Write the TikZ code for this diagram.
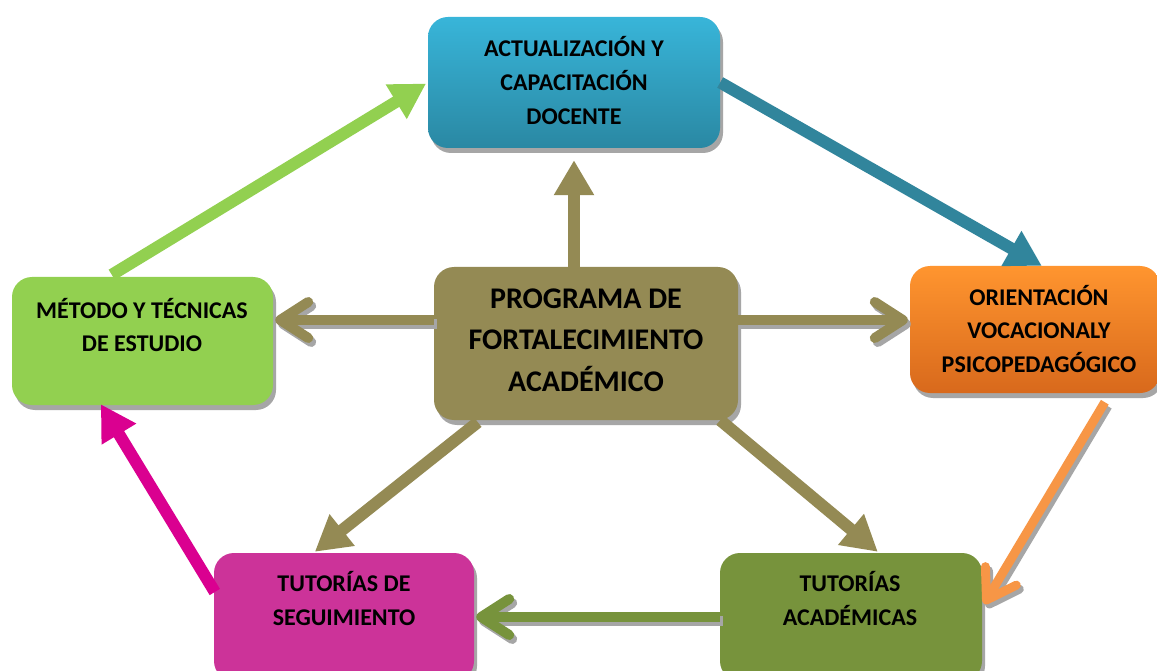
\documentclass[tikz,border=0pt]{standalone}
\usepackage{fontspec}
\setmainfont{Carlito}
\usetikzlibrary{arrows.meta,shadows,calc}
\definecolor{olive}{HTML}{948A54}
\definecolor{cyanT}{HTML}{38B5D9}
\definecolor{cyanB}{HTML}{2A88A3}
\definecolor{tealA}{HTML}{31859C}
\definecolor{greenL}{HTML}{92D050}
\definecolor{orangeT}{HTML}{FF952F}
\definecolor{orangeB}{HTML}{D8691C}
\definecolor{orangeA}{HTML}{F79646}
\definecolor{magB}{HTML}{CC3399}
\definecolor{magA}{HTML}{DA0090}
\definecolor{greenD}{HTML}{77933C}
\definecolor{shgray}{HTML}{A6A6A6}
\begin{document}
\begin{tikzpicture}[x=1pt,y=-1pt,
  box/.style={rectangle, rounded corners=20pt, inner sep=0pt,
    drop shadow={shadow xshift=3pt,shadow yshift=-5pt,fill=shgray,opacity=1}},
  lbl/.style={align=center, inner sep=0pt, font=\bfseries\fontsize{24}{34}\selectfont},
  bigarrow/.style={line width=12pt, -{Triangle[length=35pt,width=38pt]}},
  chev/.style={line width=10pt, -{Straight Barb[length=28pt,width=36pt,round]}},
  chevsh/.style={chev, shgray, transform canvas={shift={(3pt,-4pt)}}}]
\useasboundingbox (0,0) rectangle (1157,671);
\fill[white] (0,0) rectangle (1157,671);
\coordinate (y320) at (0,320);
% boxes
\node[box, top color=cyanT, bottom color=cyanB, minimum width=292pt, minimum height=131pt] (t) at (574,82.5) {};
\node[box, fill=olive, minimum width=304pt, minimum height=153pt] (c) at (586,343.5) {};
\node[box, fill=greenL, minimum width=261pt, minimum height=128pt] (m) at (142.5,341) {};
\node[box, top color=orangeT, bottom color=orangeB, minimum width=250pt, minimum height=127pt] (o) at (1035,329.5) {};
\node[box, fill=magB, minimum width=260pt, minimum height=128pt] (b1) at (344,617) {};
\node[box, fill=greenD, minimum width=262pt, minimum height=128pt] (b2) at (851,617) {};
% texts
\node[lbl] (tt) at (574,81) {ACTUALIZACIÓN Y\\CAPACITACIÓN\\DOCENTE};
\node[lbl, font=\bfseries\fontsize{30}{41.5}\selectfont] (ct) at (586,340) {PROGRAMA DE\\FORTALECIMIENTO\\ACADÉMICO};
\node[lbl, font=\bfseries\fontsize{24}{33}\selectfont] (mt) at (142,325.5) {MÉTODO Y TÉCNICAS\\DE ESTUDIO};
\node[lbl, font=\bfseries\fontsize{24}{33.5}\selectfont] (ot) at (1039,329) {ORIENTACIÓN\\VOCACIONALY\\PSICOPEDAGÓGICO};
\node[lbl] (b1t) at (344,599) {TUTORÍAS DE\\SEGUIMIENTO};
\node[lbl] (b2t) at (850,599) {TUTORÍAS\\ACADÉMICAS};
% arrows from the centre
\draw[bigarrow, olive, shorten >=12pt] (t.south |- c.north) -- (t.south);
\draw[chevsh, shorten >=2pt] (c.west |- y320) -- (m.east |- y320);
\draw[chev, olive, shorten >=2pt] (c.west |- y320) -- (m.east |- y320);
\draw[chevsh, shorten >=2pt] (c.east |- y320) -- (o.west |- y320);
\draw[chev, olive, shorten >=2pt] (c.east |- y320) -- (o.west |- y320);
\draw[bigarrow, olive] ($(c.south west)+(44,2)$) -- ($(b1.north west)+(101,-1)$);
\draw[bigarrow, olive] ($(c.south east)+(-18,0)$) -- ($(b2.north west)+(158,-1)$);
% cycle arrows
\draw[bigarrow, tealA] (t.east) -- ($(o.north west)+(132,0)$);
\draw[chevsh, line width=9pt] ($(o.south west)+(195,9)$) -- ($(b2.north east)+(2,51)$);
\draw[chev, orangeA, line width=9pt] ($(o.south west)+(195,9)$) -- ($(b2.north east)+(2,51)$);
\draw[chevsh, shorten >=2pt] (b2.west) -- (b1.east);
\draw[chev, greenD, shorten >=2pt] (b2.west) -- (b1.east);
\draw[bigarrow, magA] ($(b1.west)+(1,-25)$) -- ($(m.south west)+(89,-1)$);
\draw[bigarrow, greenL, shorten >=2pt] ($(m.north west)+(100,-2)$) -- (t.west);
\end{tikzpicture}
\end{document}
